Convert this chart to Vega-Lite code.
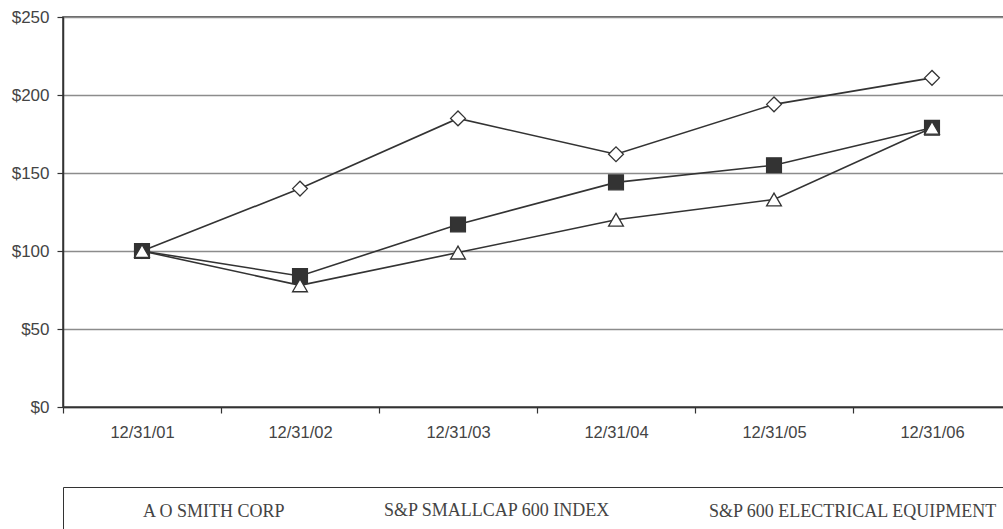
{
  "$schema": "https://vega.github.io/schema/vega-lite/v6.json",
  "width": 948,
  "height": 390,
  "autosize": {"type": "none"},
  "padding": {"left": 63, "top": 17, "right": 0, "bottom": 122},
  "background": "white",
  "config": {
    "view": {"stroke": "#333", "strokeWidth": 1.5},
    "axis": {"labelFont": "Liberation Sans", "labelColor": "#444", "domainColor": "#333", "domainWidth": 1.5, "tickColor": "#333", "tickWidth": 1.2, "tickSize": 6, "title": null}
  },
  "data": {
    "values": [
      {"date": "12/31/01", "series": "A O SMITH CORP", "value": 100},
      {"date": "12/31/02", "series": "A O SMITH CORP", "value": 140},
      {"date": "12/31/03", "series": "A O SMITH CORP", "value": 185},
      {"date": "12/31/04", "series": "A O SMITH CORP", "value": 162},
      {"date": "12/31/05", "series": "A O SMITH CORP", "value": 194},
      {"date": "12/31/06", "series": "A O SMITH CORP", "value": 211},
      {"date": "12/31/01", "series": "S&P SMALLCAP 600 INDEX", "value": 100},
      {"date": "12/31/02", "series": "S&P SMALLCAP 600 INDEX", "value": 84},
      {"date": "12/31/03", "series": "S&P SMALLCAP 600 INDEX", "value": 117},
      {"date": "12/31/04", "series": "S&P SMALLCAP 600 INDEX", "value": 144},
      {"date": "12/31/05", "series": "S&P SMALLCAP 600 INDEX", "value": 155},
      {"date": "12/31/06", "series": "S&P SMALLCAP 600 INDEX", "value": 179},
      {"date": "12/31/01", "series": "S&P 600 ELECTRICAL EQUIPMENT", "value": 100},
      {"date": "12/31/02", "series": "S&P 600 ELECTRICAL EQUIPMENT", "value": 78},
      {"date": "12/31/03", "series": "S&P 600 ELECTRICAL EQUIPMENT", "value": 99},
      {"date": "12/31/04", "series": "S&P 600 ELECTRICAL EQUIPMENT", "value": 120},
      {"date": "12/31/05", "series": "S&P 600 ELECTRICAL EQUIPMENT", "value": 133},
      {"date": "12/31/06", "series": "S&P 600 ELECTRICAL EQUIPMENT", "value": 179}
    ]
  },
  "encoding": {
    "x": {
      "field": "date", "type": "ordinal",
      "scale": {"type": "band", "paddingInner": 0, "paddingOuter": 0, "domain": ["12/31/01", "12/31/02", "12/31/03", "12/31/04", "12/31/05", "12/31/06"]},
      "axis": {"tickBand": "extent", "labelAngle": 0, "labelPadding": 11, "labelFontSize": 16.5, "grid": false}
    },
    "y": {
      "field": "value", "type": "quantitative",
      "scale": {"domain": [0, 250], "nice": false},
      "axis": {"values": [0, 50, 100, 150, 200, 250], "format": "$.0f", "grid": true, "gridColor": "#8c8c8c", "gridWidth": 1.4, "labelFontSize": 17, "labelPadding": 8}
    }
  },
  "layer": [
    {
      "mark": {"type": "line", "color": "#333", "strokeWidth": 1.6},
      "encoding": {"detail": {"field": "series"}}
    },
    {
      "mark": {"type": "point", "filled": true, "stroke": "#333", "strokeWidth": 1.3, "size": 220, "opacity": 1},
      "encoding": {
        "fill": {
          "field": "series", "type": "nominal",
          "scale": {"domain": ["A O SMITH CORP", "S&P SMALLCAP 600 INDEX", "S&P 600 ELECTRICAL EQUIPMENT"], "range": ["white", "#333", "white"]},
          "legend": null
        },
        "shape": {
          "field": "series", "type": "nominal",
          "scale": {"domain": ["A O SMITH CORP", "S&P SMALLCAP 600 INDEX", "S&P 600 ELECTRICAL EQUIPMENT"], "range": ["diamond", "square", "triangle-up"]},
          "legend": null
        }
      }
    },
    {
      "mark": {"type": "point", "filled": true, "fill": "white", "stroke": "#333", "strokeWidth": 1.5, "size": 0},
      "encoding": {
        "shape": {
          "field": "series", "type": "nominal",
          "scale": {
            "domain": ["A O SMITH CORP", "S&P SMALLCAP 600 INDEX", "S&P 600 ELECTRICAL EQUIPMENT"],
            "range": [
              "M-2.5,0L-0.7,0M0.7,0L2.5,0M-0.7,0L0,-0.7L0.7,0L0,0.7Z",
              "M-2.5,0L2.5,0M-0.75,-0.75L0.75,-0.75L0.75,0.75L-0.75,0.75ZM-0.75,-0.65L0.75,-0.65M-0.75,-0.55L0.75,-0.55M-0.75,-0.45L0.75,-0.45M-0.75,-0.35L0.75,-0.35M-0.75,-0.25L0.75,-0.25M-0.75,-0.15L0.75,-0.15M-0.75,-0.05L0.75,-0.05M-0.75,0.05L0.75,0.05M-0.75,0.15L0.75,0.15M-0.75,0.25L0.75,0.25M-0.75,0.35L0.75,0.35M-0.75,0.45L0.75,0.45M-0.75,0.55L0.75,0.55M-0.75,0.65L0.75,0.65",
              "M-2.5,0L-0.338,0M0.338,0L2.5,0M-0.65,0.6L0,-0.65L0.65,0.6Z"
            ]
          },
          "legend": {
            "orient": "none", "legendX": 0, "legendY": 470, "direction": "horizontal", "title": null,
            "padding": 13, "strokeColor": "#333",
            "symbolSize": 400, "symbolOffset": 17, "labelOffset": 28, "columnPadding": 31,
            "labelFont": "Liberation Serif", "labelFontSize": 18, "labelColor": "#444", "labelLimit": 500,
            "symbolFillColor": "white", "symbolStrokeColor": "#333", "symbolStrokeWidth": 1.5, "symbolOpacity": 1
          }
        }
      }
    }
  ],
  "resolve": {"scale": {"shape": "independent"}, "legend": {"shape": "independent"}}
}
